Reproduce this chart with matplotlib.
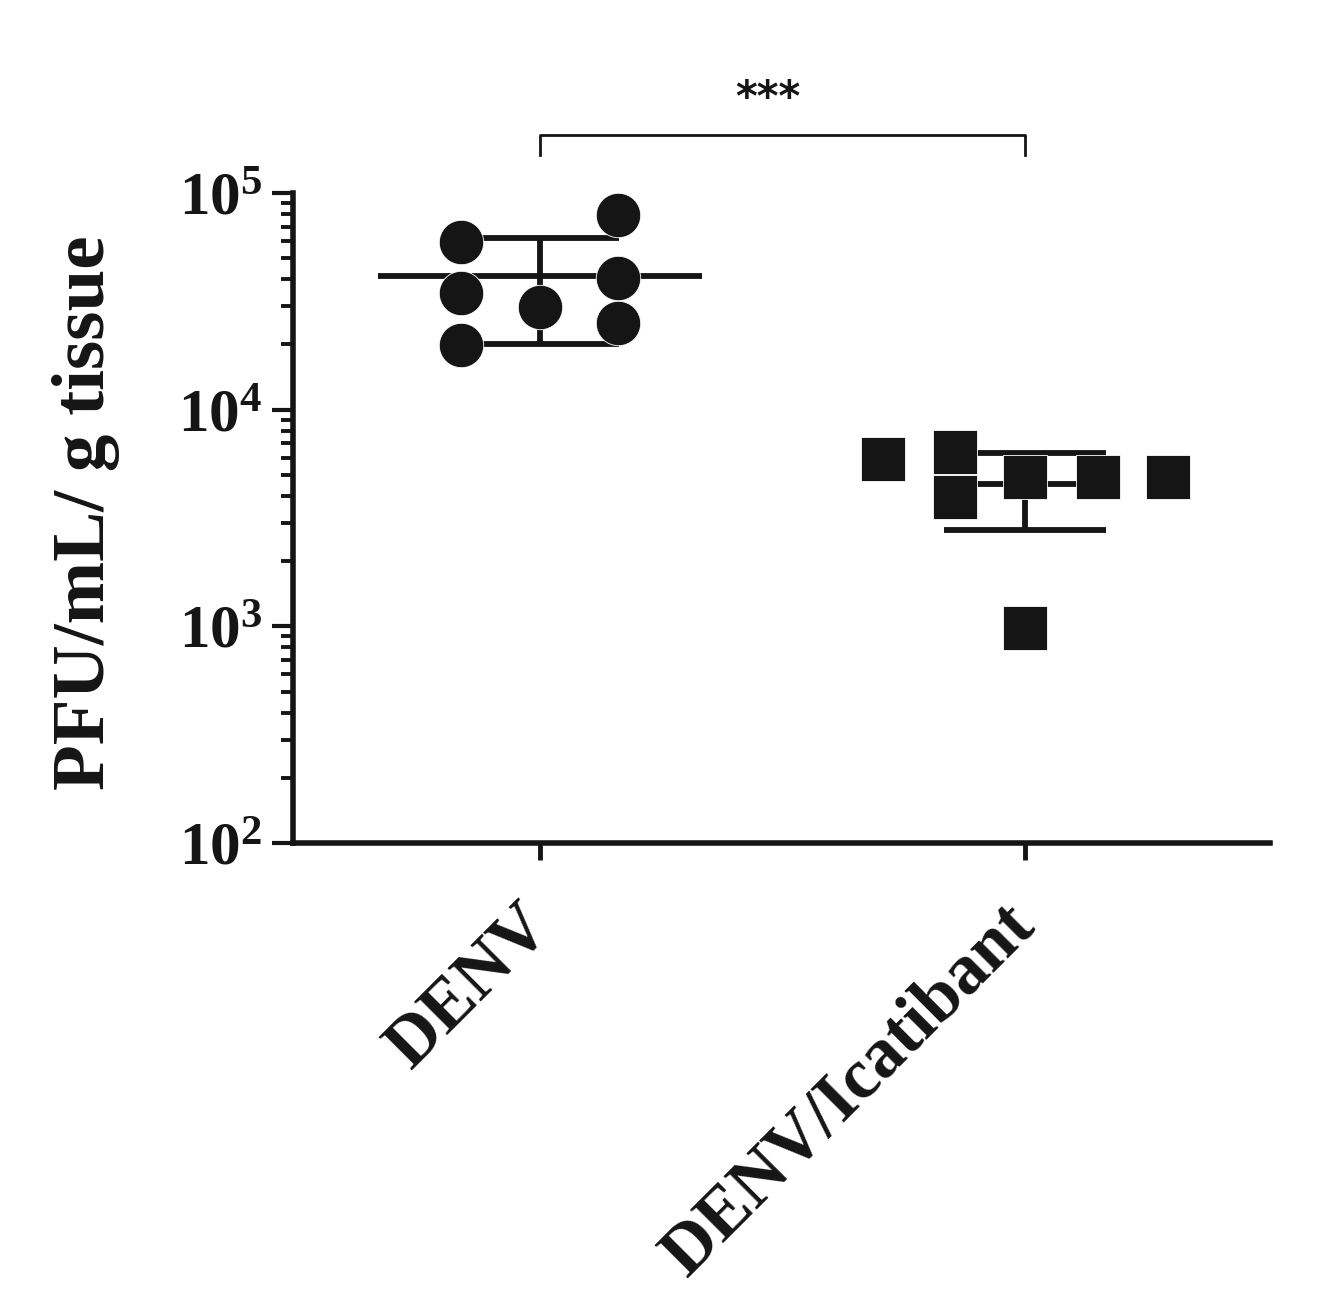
import numpy as np
import matplotlib
matplotlib.use("Agg")
import matplotlib.pyplot as plt
from matplotlib.ticker import LogLocator, FixedLocator, FuncFormatter, NullFormatter

# ---- data ----
groups = ["DENV", "DENV/Icatibant"]
denv_values = [59500, 34500, 19900, 29800, 79100, 40500, 25100]
icatibant_values = [5920, 6380, 3960, 4890, 4890, 4890, 980]
y_ticks = [1e2, 1e3, 1e4, 1e5]
significance = "***"

# ---- layout / style (not data) ----
denv_offsets = [-0.163, -0.163, -0.163, 0.0, 0.160, 0.160, 0.160]
icat_offsets = [-0.293, -0.144, -0.144, 0.0, 0.151, 0.295, 0.0]
INK = "#151515"

plt.rcParams["font.family"] = ["Liberation Serif", "DejaVu Serif"]
plt.rcParams["font.weight"] = "bold"
plt.rcParams["mathtext.fontset"] = "custom"
plt.rcParams["mathtext.rm"] = "Liberation Serif:bold"
plt.rcParams["mathtext.bf"] = "Liberation Serif:bold"
plt.rcParams["mathtext.it"] = "Liberation Serif:bold"

fig = plt.figure(figsize=(13.28, 13.16), dpi=100)
ax = fig.add_axes([293 / 1328, 1 - 843 / 1316, (1270 - 293) / 1328, (843 - 193) / 1316])

ax.set_yscale("log")
ax.set_ylim(1e2, 1e5)
ax.set_xlim(-0.509, 1.505)

def draw_group(xc, vals, offsets, marker, mean_hw, cap_hw):
    vals = np.asarray(vals, dtype=float)
    m = vals.mean()
    sd = vals.std(ddof=1)
    lw = 4.2
    ax.hlines(m, xc - mean_hw, xc + mean_hw, color=INK, lw=lw, zorder=2)
    ax.hlines([m - sd, m + sd], xc - cap_hw, xc + cap_hw, color=INK, lw=lw, zorder=2)
    ax.vlines(xc, m - sd, m + sd, color=INK, lw=lw, zorder=2)
    ax.plot(xc + np.asarray(offsets), vals, linestyle="none", marker=marker,
            ms=32, color=INK, mec="white", mew=0.6, zorder=3, clip_on=False)

draw_group(0, denv_values, denv_offsets, "o", 0.334, 0.163)
draw_group(1, icatibant_values, icat_offsets, "s", 0.167, 0.167)

# spines
for s in ["top", "right"]:
    ax.spines[s].set_visible(False)
for s in ["left", "bottom"]:
    ax.spines[s].set_linewidth(4)
    ax.spines[s].set_color(INK)

# y ticks
ax.yaxis.set_major_locator(FixedLocator(y_ticks))
ax.yaxis.set_minor_locator(LogLocator(base=10, subs=np.arange(2, 10)))
ax.yaxis.set_minor_formatter(NullFormatter())
ax.yaxis.set_major_formatter(FuncFormatter(lambda v, p: r"$\mathregular{10^{%d}}$" % int(round(np.log10(v)))))
ax.tick_params(axis="y", which="major", length=15, width=3, labelsize=44, pad=7, color=INK, labelcolor=INK)
ax.tick_params(axis="y", which="minor", length=9, width=2.8, color=INK)

# x ticks
ax.set_xticks([0, 1])
ax.set_xticklabels(groups, rotation=45, ha="right", va="center", rotation_mode="anchor",
                   fontsize=51, fontweight="bold", color=INK)
ax.tick_params(axis="x", which="major", length=12, width=3.5, pad=40, color=INK)
ax.tick_params(axis="x", which="minor", length=0)

# y label
fig.text(86 / 1328, 1 - 513 / 1316, "PFU/mL/ g tissue", rotation=90, ha="center", va="center",
         fontsize=54, fontweight="bold", color=INK)

# significance bracket
y_br = 1.089
y_end = 1.058
trans = ax.get_xaxis_transform()
ax.plot([0, 0, 1, 1], [y_end, y_br, y_br, y_end], color=INK, lw=2, transform=trans, clip_on=False)
ax.text(0.47, 1.145, significance, transform=trans, ha="center", va="center",
        fontsize=30, fontweight="bold", color=INK, family=["DejaVu Sans"])

fig.savefig("out.png", dpi=100, facecolor="white")
